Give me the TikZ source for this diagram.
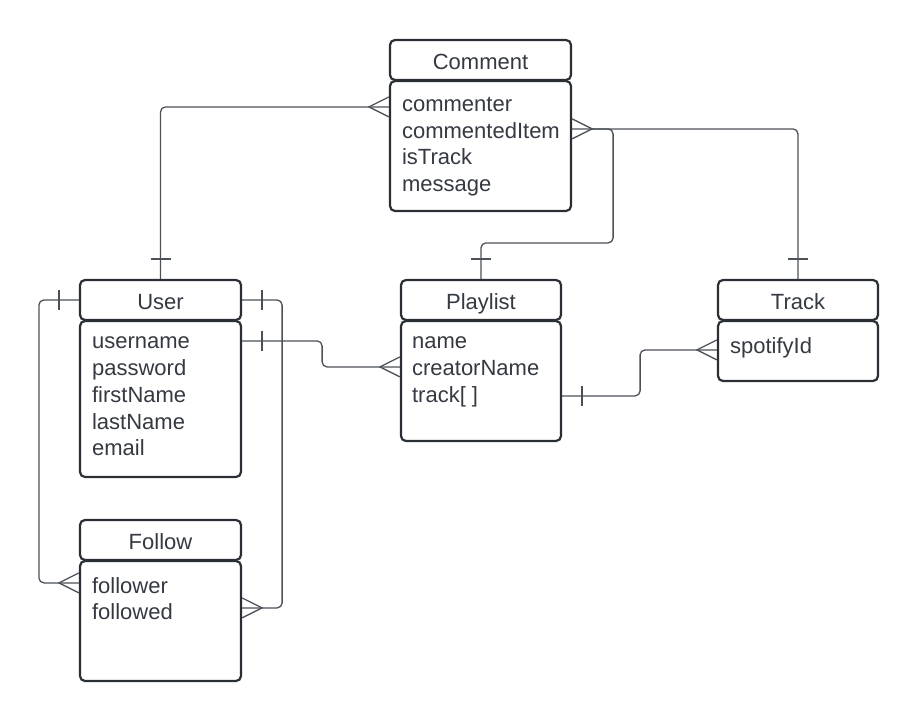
\documentclass[tikz,border=0pt]{standalone}
\usepackage{fontspec}
\setmainfont{Liberation Sans}
\usetikzlibrary{positioning}
\definecolor{boxline}{HTML}{2A2E35}
\definecolor{textcol}{HTML}{353A42}
\definecolor{connline}{HTML}{4C5159}

\begin{document}
\begin{tikzpicture}[x=1pt, y=-1pt]
        % Style des entites
        \tikzstyle{entity} = [rectangle, rounded corners=5pt, minimum height=40pt, inner sep=0pt, text centered, text height=19.7pt, text depth=0pt, draw=boxline, line width=2.2pt, fill=white, text=textcol, font=\fontsize{22}{26.7}\selectfont]
        \tikzstyle{body} = [rectangle, rounded corners=5pt, inner sep=0pt, draw=boxline, line width=2.2pt, fill=white]
        \tikzstyle{attr} = [anchor=north west, align=left, inner sep=0pt, text=textcol, font=\fontsize{22}{26.7}\selectfont]
        \tikzstyle{conn} = [draw=connline, line width=1.3pt, rounded corners=5pt]
        \tikzstyle{foot} = [draw=connline, line width=1.3pt]

        \useasboundingbox (0,0) rectangle (918,720);

        % Entites
        \node (comment) [entity, minimum width=181pt] at (480.5,60) {Comment};
        \node (commentbody) [body, minimum width=181pt, minimum height=130pt, below=-1.2pt of comment] {};
        \node (commentattr) [attr] at ([xshift=13pt, yshift=-17pt]commentbody.north west) {commenter\\commentedItem\\isTrack\\message};

        \node (user) [entity, minimum width=161pt] at (160.5,300) {User};
        \node (userbody) [body, minimum width=161pt, minimum height=156pt, below=-1.2pt of user] {};
        \node (userattr) [attr] at ([xshift=13pt, yshift=-17pt]userbody.north west) {username\\password\\firstName\\lastName\\email};

        \node (follow) [entity, minimum width=161pt] at (160.5,540) {Follow};
        \node (followbody) [body, minimum width=161pt, minimum height=120pt, below=-1.2pt of follow] {};
        \node (followattr) [attr] at ([xshift=13pt, yshift=-17pt]followbody.north west) {follower\\followed};

        \node (playlist) [entity, minimum width=160pt] at (481,300) {Playlist};
        \node (playlistbody) [body, minimum width=160pt, minimum height=120pt, below=-1.2pt of playlist] {};
        \node (playlistattr) [attr] at ([xshift=12pt, yshift=-17pt]playlistbody.north west) {name\\creatorName\\track[ ]};

        \node (track) [entity, minimum width=160pt] at (798,300) {Track};
        \node (trackbody) [body, minimum width=160pt, minimum height=60pt, below=-1.2pt of track] {};
        \node (trackattr) [attr] at ([xshift=13pt, yshift=-17pt]trackbody.north west) {spotifyId};

        % Points d'attache
        \coordinate (cmLeft) at ([yshift=-27pt]commentbody.north west);
        \coordinate (cmRight) at ([yshift=-49pt]commentbody.north east);
        \coordinate (usRow) at ([yshift=-21pt]userbody.north east);
        \coordinate (flLeft) at ([yshift=-23pt]followbody.north west);
        \coordinate (flRight) at ([yshift=-48pt]followbody.north east);
        \coordinate (plLeft) at ([yshift=-47pt]playlistbody.north west);
        \coordinate (plRight) at ([yshift=-76pt]playlistbody.north east);
        \coordinate (trLeft) at ([yshift=-30pt]trackbody.north west);

        % Liaisons
        \draw [conn] (cmLeft) -| (user.north);
        \draw [conn] (cmRight) -| (track.north);
        \draw [conn] ([xshift=20pt]cmRight) -- ++(21,0) -- ++(0,114) -| (playlist.north);
        \draw [conn] (user.west) -- ++(-40,0) |- (flLeft);
        \draw [conn] (user.east) -- ++(40,0) |- (flRight);
        \draw [conn] (usRow) -- ++(80,0) |- (plLeft);
        \draw [conn] (plRight) -- ++(78,0) |- (trLeft);

        % Pattes (plusieurs)
        \draw [foot] ([yshift=10pt]cmLeft) -- ([xshift=-20pt]cmLeft) -- ([yshift=-10pt]cmLeft);
        \draw [foot] ([yshift=10pt]cmRight) -- ([xshift=20pt]cmRight) -- ([yshift=-10pt]cmRight);
        \draw [foot] ([yshift=10pt]flLeft) -- ([xshift=-20pt]flLeft) -- ([yshift=-10pt]flLeft);
        \draw [foot] ([yshift=10pt]flRight) -- ([xshift=20pt]flRight) -- ([yshift=-10pt]flRight);
        \draw [foot] ([yshift=10pt]plLeft) -- ([xshift=-20pt]plLeft) -- ([yshift=-10pt]plLeft);
        \draw [foot] ([yshift=10pt]trLeft) -- ([xshift=-20pt]trLeft) -- ([yshift=-10pt]trLeft);

        % Barres (un seul)
        \draw [foot] ([xshift=-10pt, yshift=20pt]user.north) -- ([xshift=10pt, yshift=20pt]user.north);
        \draw [foot] ([xshift=-10pt, yshift=20pt]playlist.north) -- ([xshift=10pt, yshift=20pt]playlist.north);
        \draw [foot] ([xshift=-10pt, yshift=20pt]track.north) -- ([xshift=10pt, yshift=20pt]track.north);
        \draw [foot] ([xshift=-20pt, yshift=10pt]user.west) -- ([xshift=-20pt, yshift=-10pt]user.west);
        \draw [foot] ([xshift=20pt, yshift=10pt]user.east) -- ([xshift=20pt, yshift=-10pt]user.east);
        \draw [foot] ([xshift=20pt, yshift=10pt]usRow) -- ([xshift=20pt, yshift=-10pt]usRow);
        \draw [foot] ([xshift=20pt, yshift=10pt]plRight) -- ([xshift=20pt, yshift=-10pt]plRight);
    \end{tikzpicture}
\end{document}
